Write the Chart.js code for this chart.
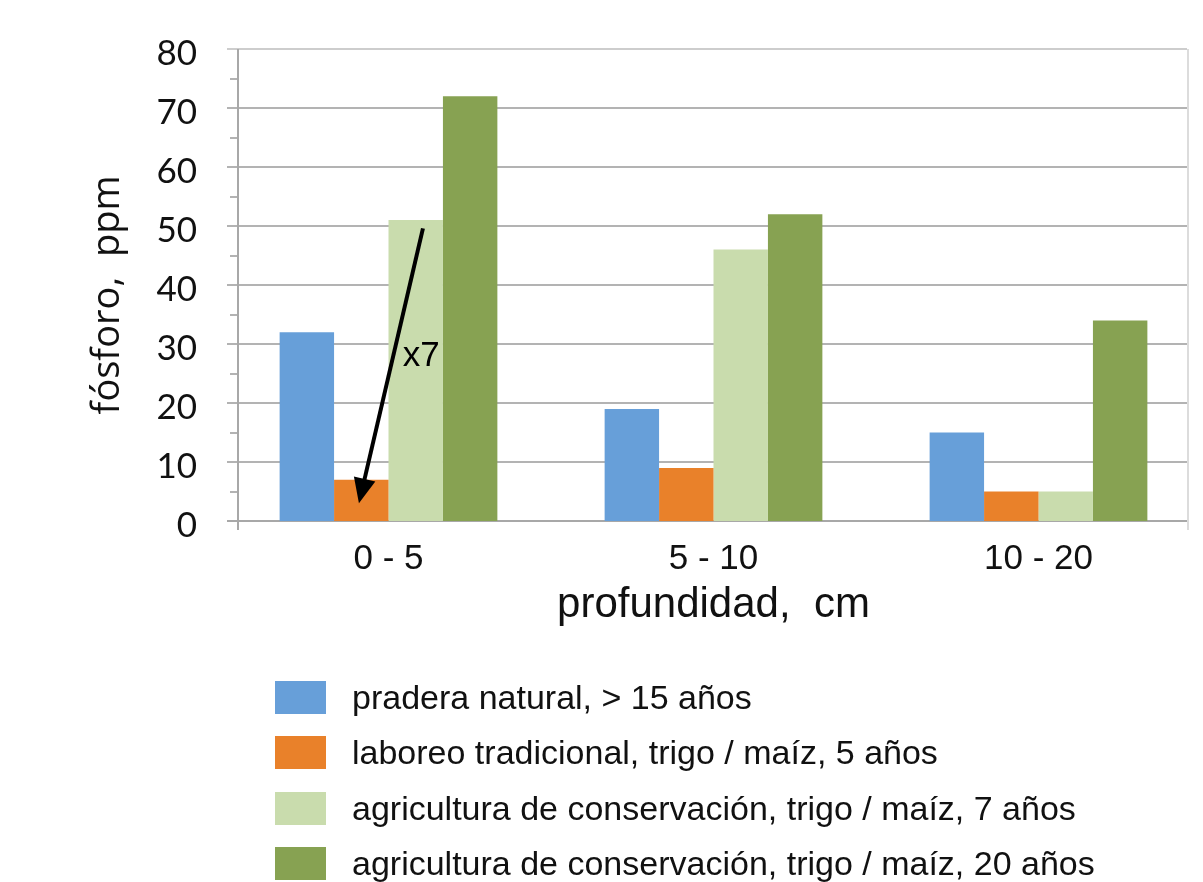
<!DOCTYPE html>
<html lang="es">
<head>
<meta charset="UTF-8">
<title>Fósforo según profundidad</title>
<script src="https://cdn.jsdelivr.net/npm/chart.js"></script>
<style>
  html, body { margin: 0; padding: 0; background: #fff; }
  #wrap { position: relative; width: 1203px; height: 882px; overflow: hidden; }
  #chart { position: absolute; left: 0; top: 0; }
  #legend { position: absolute; left: 275px; top: 0; font-family: "Liberation Sans", Arial, sans-serif; font-size: 34px; color: #111; }
  .item { position: absolute; left: 0; display: flex; align-items: center; height: 33px; white-space: nowrap; }
  .swatch { width: 51px; height: 33px; margin-right: 26px; flex: none; }
</style>
</head>
<body>
<div id="wrap">
  <canvas id="chart" width="1203" height="882"></canvas>
  <div id="legend"></div>
</div>
<script>
  // data
  const depths = ['0 - 5', '5 - 10', '10 - 20'];
  const seriesNames = [
    'pradera natural, > 15 años',
    'laboreo tradicional, trigo / maíz, 5 años',
    'agricultura de conservación, trigo / maíz, 7 años',
    'agricultura de conservación, trigo / maíz, 20 años'
  ];
  const praderaNatural = [32, 19, 15];
  const laboreoTradicional = [7, 9, 5];
  const conservacion7 = [51, 46, 5];
  const conservacion20 = [72, 52, 34];
  const seriesColors = ['#679fd9', '#e9812a', '#c9dcad', '#87a252'];
  const yTicks = [0, 10, 20, 30, 40, 50, 60, 70, 80];
  const yMinor = [5, 15, 25, 35, 45, 55, 65, 75];

  // excel-like frame: axis at +12px inside chart area, gridlines, minor ticks
  const frame = {
    id: 'frame',
    beforeDatasetsDraw(chart) {
      const { ctx, chartArea, scales: { y } } = chart;
      const left = chartArea.left + 12, right = chartArea.right - 14;
      const top = Math.round(y.getPixelForValue(80));
      const zero = Math.round(y.getPixelForValue(0));
      ctx.save();
      ctx.lineWidth = 2;
      const seg = (x1, y1, x2, y2, c) => {
        ctx.strokeStyle = c;
        ctx.beginPath(); ctx.moveTo(x1, y1); ctx.lineTo(x2, y2); ctx.stroke();
      };
      yTicks.forEach(v => {
        const py = Math.round(y.getPixelForValue(v));
        seg(left - 11, py, right, py, v === 80 ? '#cdcdcd' : '#b3b3b3');
      });
      yMinor.forEach(v => {
        const py = Math.round(y.getPixelForValue(v));
        seg(left - 8, py, left, py, '#b3b3b3');
      });
      seg(right + 1, top, right + 1, zero + 9, '#dcdcdc');
      seg(left, top, left, zero + 9, '#a8a8a8');
      seg(left - 11, zero, right, zero, '#a8a8a8');
      ctx.restore();
    }
  };

  // the "x7" arrow from the 7-year bar down to the tillage bar
  const arrow = {
    id: 'arrow',
    afterDatasetsDraw(chart) {
      const { ctx, scales: { x, y } } = chart;
      const cw = x.getPixelForValue(1) - x.getPixelForValue(0);
      const c0 = x.getPixelForValue(0);
      const x1 = c0 + 0.106 * cw, y1 = y.getPixelForValue(49.6);
      const x2 = c0 - 0.091 * cw, y2 = y.getPixelForValue(3);
      const dx = x2 - x1, dy = y2 - y1, len = Math.hypot(dx, dy);
      const ux = dx / len, uy = dy / len;
      const headLen = 25, headW = 11;
      const bx = x2 - ux * headLen, by = y2 - uy * headLen;
      ctx.save();
      ctx.strokeStyle = '#000';
      ctx.fillStyle = '#000';
      ctx.lineWidth = 4;
      ctx.beginPath(); ctx.moveTo(x1, y1); ctx.lineTo(bx + ux * 2, by + uy * 2); ctx.stroke();
      ctx.beginPath();
      ctx.moveTo(x2, y2);
      ctx.lineTo(bx - uy * headW, by + ux * headW);
      ctx.lineTo(bx + uy * headW, by - ux * headW);
      ctx.closePath(); ctx.fill();
      ctx.font = '35px "Liberation Sans", Arial, sans-serif';
      ctx.textBaseline = 'alphabetic';
      ctx.fillText('x7', c0 + 0.044 * cw, y.getPixelForValue(26.2));
      ctx.restore();
    }
  };

  const datasets = [praderaNatural, laboreoTradicional, conservacion7, conservacion20].map((d, i) => ({
    label: seriesNames[i],
    data: d,
    backgroundColor: seriesColors[i],
    borderWidth: 0,
    categoryPercentage: 0.67,
    barPercentage: 1.0
  }));

  const chart = new Chart(document.getElementById('chart'), {
    type: 'bar',
    data: { labels: depths, datasets: datasets },
    options: {
      responsive: false,
      animation: false,
      layout: { padding: { left: 0, right: 2, top: 49, bottom: 251 } },
      plugins: { legend: { display: false }, tooltip: { enabled: false } },
      scales: {
        x: {
          grid: { display: false },
          border: { display: false },
          ticks: { color: '#111', padding: 9, font: { family: '"Liberation Sans", Arial, sans-serif', size: 35 } },
          title: {
            display: true, text: 'profundidad,  cm', color: '#111',
            padding: 0, font: { family: '"Liberation Sans", Arial, sans-serif', size: 42 }
          },
          afterFit(s) { s.height = 110; }
        },
        y: {
          min: 0, max: 80,
          grid: { display: false },
          border: { display: false },
          afterBuildTicks(s) { s.ticks = yTicks.map(v => ({ value: v })); },
          ticks: { color: '#111', padding: 21, labelOffset: 5, font: { family: 'Lato, sans-serif', size: 35 } },
          title: {
            display: true, text: 'fósforo,  ppm  ', color: '#111',
            padding: { top: 85, bottom: 0 }, font: { family: '"Open Sans", sans-serif', size: 38 }
          },
          afterFit(s) { s.width = 226; }
        }
      }
    },
    plugins: [frame, arrow]
  });

  // legend built from the same series
  const legend = document.getElementById('legend');
  seriesNames.forEach((name, i) => {
    const row = document.createElement('div');
    row.className = 'item';
    row.style.top = (681 + i * 55.3) + 'px';
    const sw = document.createElement('span');
    sw.className = 'swatch';
    sw.style.background = seriesColors[i];
    const tx = document.createElement('span');
    tx.textContent = name;
    row.appendChild(sw);
    row.appendChild(tx);
    legend.appendChild(row);
  });
</script>
</body>
</html>
